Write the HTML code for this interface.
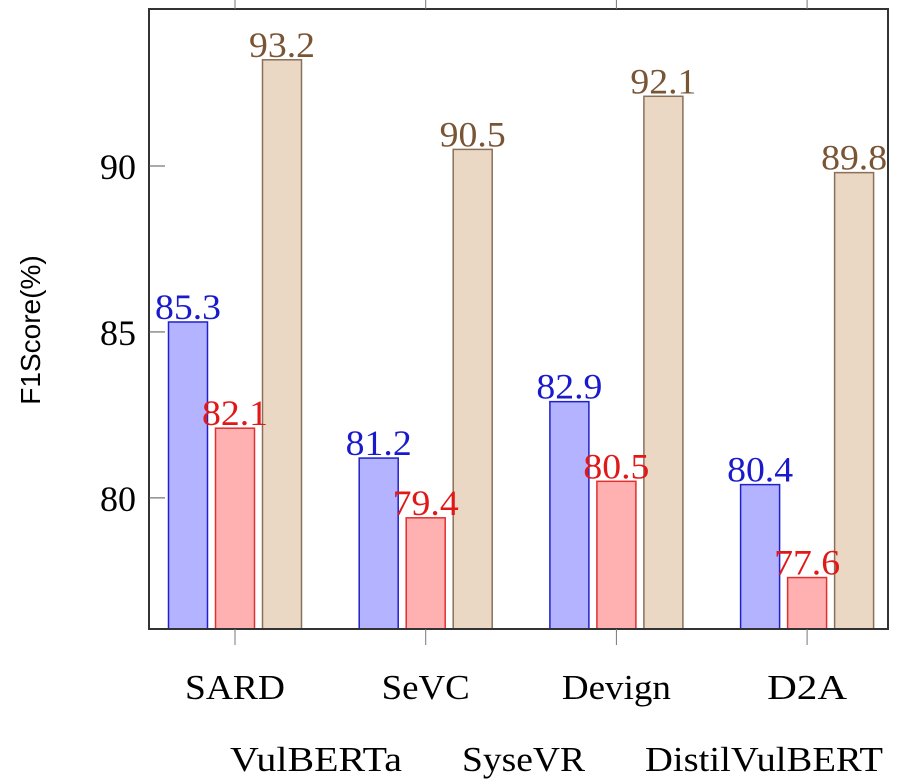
<!DOCTYPE html>
<html><head><meta charset="utf-8"><style>
html,body{margin:0;padding:0;background:#fff;}
svg{display:block;}
</style></head><body>
<svg id="chart" width="902" height="783" xmlns="http://www.w3.org/2000/svg">
<text x="40" y="330" transform="rotate(-90 40 330)" text-anchor="middle" font-family="Liberation Sans, sans-serif" font-size="28" fill="#000">F1Score(%)</text>
<g id="bars"></g>
<g id="labels"></g>
<rect x="149" y="9" width="739" height="620" fill="none" stroke="#333" stroke-width="2"/>
<g font-family="Liberation Serif, serif" font-size="35" fill="#000">
<text x="230" y="771" textLength="172" lengthAdjust="spacingAndGlyphs">VulBERTa</text>
<text x="462" y="771" textLength="123" lengthAdjust="spacingAndGlyphs">SyseVR</text>
<text x="645" y="771" textLength="238" lengthAdjust="spacingAndGlyphs">DistilVulBERT</text>
</g>
</svg>
<script>
const categories = ["SARD","SeVC","Devign","D2A"];
const vulberta = [85.3,81.2,82.9,80.4];
const sysevr = [82.1,79.4,80.5,77.6];
const distil = [93.2,90.5,92.1,89.8];
const yTicks = [80,85,90];
const NS="http://www.w3.org/2000/svg";
const svg=document.getElementById('chart');
const barsG=document.getElementById('bars');
const labelsG=document.getElementById('labels');
const yMin=76.05, yMax=94.73, plotTop=9, plotBottom=629;
function y(v){return plotBottom-(v-yMin)/(yMax-yMin)*(plotBottom-plotTop);}
function xc(i){return 235+i*190.7;}
function mk(tag,attrs,parent){const e=document.createElementNS(NS,tag);for(const k in attrs)e.setAttribute(k,attrs[k]);(parent||svg).appendChild(e);return e;}
const catWidths=[100,88,109,80];
const series=[
 {vals:vulberta,fill:"#b3b3ff",stroke:"#2020cc",text:"#1a1acc",off:-47,name:"vulberta"},
 {vals:sysevr,fill:"#ffb0b0",stroke:"#e03030",text:"#e01818",off:0,name:"sysevr"},
 {vals:distil,fill:"#ead8c4",stroke:"#8a7058",text:"#7a5535",off:47,name:"distilvulbert"}];
series.forEach(s=>{
 s.vals.forEach((v,i)=>{
  const cx=xc(i)+s.off;
  const r=mk('rect',{x:cx-19.5,y:y(v),width:39,height:plotBottom-y(v),fill:s.fill,stroke:s.stroke,'stroke-width':1.5},barsG);
  
  
  const t=mk('text',{x:cx-33,y:y(v)-3,textLength:66,lengthAdjust:'spacingAndGlyphs','font-family':'Liberation Serif, serif','font-size':36,fill:s.text},labelsG);
  t.textContent=v.toFixed(1);
  
  
 });
});
yTicks.forEach(v=>{
 const l=mk('line',{x1:149,x2:165,y1:y(v),y2:y(v),stroke:'#555','stroke-width':1});
 
 
 const t=mk('text',{x:136,y:y(v)+13,'text-anchor':'end','font-family':'Liberation Serif, serif','font-size':36,fill:'#000'});
 t.textContent=v;
 
 
});
categories.forEach((c,i)=>{
 const x=xc(i);
 const a=mk('line',{x1:x,x2:x,y1:0,y2:9,stroke:'#777','stroke-width':1});
 
 
 const b=mk('line',{x1:x,x2:x,y1:629,y2:645,stroke:'#777','stroke-width':1});
 
 
 const w=catWidths[i];
 const t=mk('text',{x:x-w/2,y:699,textLength:w,lengthAdjust:'spacingAndGlyphs','font-family':'Liberation Serif, serif','font-size':35,fill:'#000'});
 t.textContent=c;
 
 
});
</script>
</body></html>
